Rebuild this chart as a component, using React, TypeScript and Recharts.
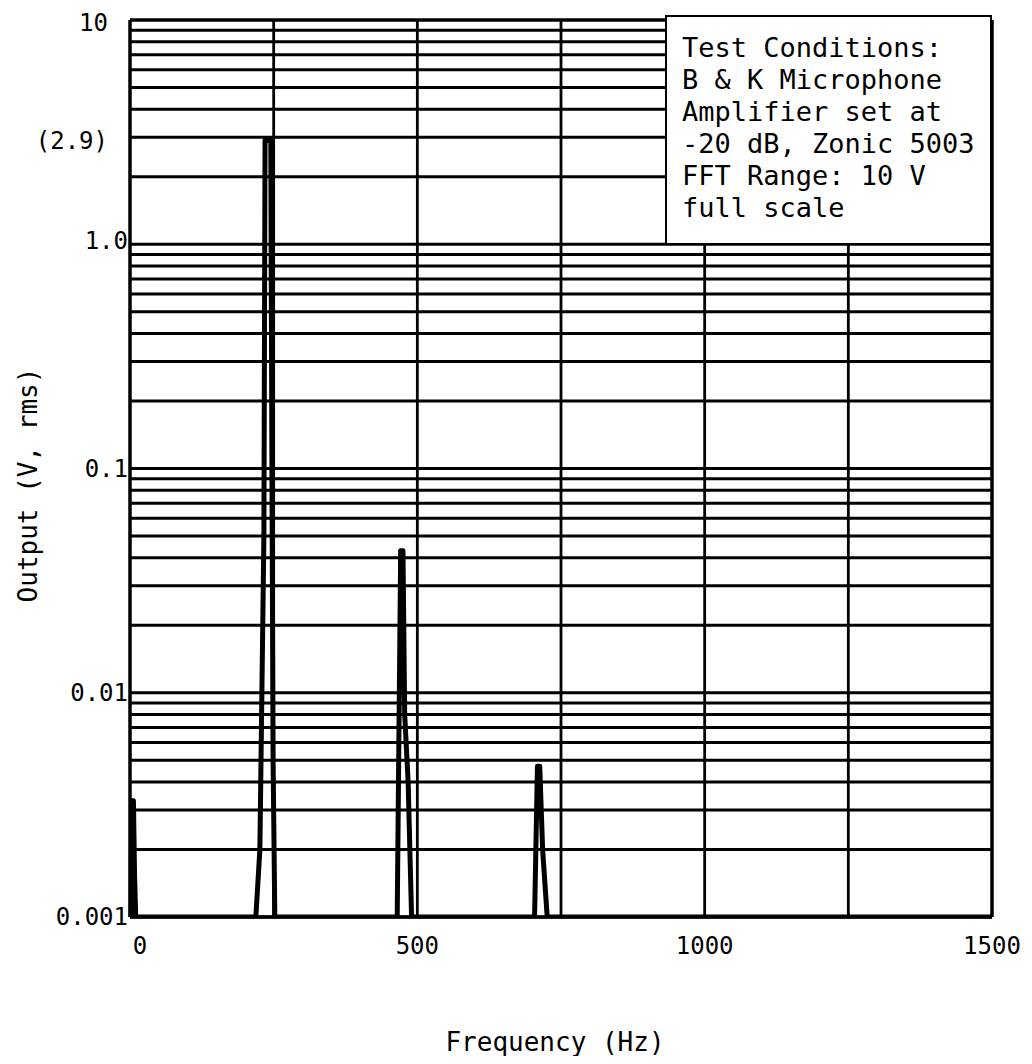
import { LineChart, Line, XAxis, YAxis, ReferenceLine } from 'recharts';

// spectrum trace (Hz, V rms)
const freqHz = [0, 2, 3, 6, 8, 10, 219, 226, 233, 235, 245, 247, 249, 252, 465, 471, 475, 478, 484, 490, 704, 709, 713, 718, 726, 1500];
const outputV = [0.001, 0.001, 0.0033, 0.0033, 0.0015, 0.001, 0.001, 0.002, 0.05, 2.9, 2.9, 0.1, 0.005, 0.001, 0.001, 0.043, 0.043, 0.008, 0.004, 0.001, 0.001, 0.0047, 0.0047, 0.002, 0.001, 0.001];

const xTicks = [0, 500, 1000, 1500];
const yTicks = [0.001, 0.01, 0.1, 1, 2.9, 10];
const yTickLabels: Record<string, string> = { '0.001': '0.001', '0.01': '0.01', '0.1': '0.1', '1': '1.0', '2.9': '(2.9)', '10': '10' };
const xGrid = [250, 500, 750, 1000, 1250, 1500];
const decades = [0.001, 0.01, 0.1, 1];
const mantissas = [1, 2, 3, 4, 5, 6, 7, 8, 9];
const yGrid = decades.flatMap((d) => mantissas.map((m) => +(m * d).toPrecision(3))).concat([10]);

const noteLines = ['Test Conditions:', 'B & K Microphone', 'Amplifier set at', '-20 dB, Zonic 5003', 'FFT Range: 10 V', 'full scale'];

const data = freqHz.map((f, i) => ({ f, v: outputV[i] }));

const FONT = '"DejaVu Sans Mono", monospace';

const YTick = (props: any) => {
    const { x, y, payload } = props;
    const label = yTickLabels[String(payload.value)];
    const shifted = payload.value === 10 || payload.value === 2.9;
    return (
        <text
            x={x - (shifted ? 20 : 0)}
            y={y + (payload.value === 10 ? 3 : payload.value === 1 ? -4 : 0)}
            dy="0.35em"
            textAnchor="end"
            fill="#000"
            fontSize={24}
            fontFamily={FONT}
        >
            {label}
        </text>
    );
};

const XTick = (props: any) => {
    const { x, y, payload } = props;
    return (
        <text x={x + (payload.value === 0 ? 10 : 0)} y={y} dy="0.71em" textAnchor="middle" fill="#000" fontSize={24} fontFamily={FONT}>
            {payload.value}
        </text>
    );
};

export default function App() {
    return (
        <div style={{ position: 'relative', width: 1016, height: 1048, background: '#fff' }}>
            <LineChart width={1016} height={1048} data={data} margin={{ top: 12, right: 32, left: 0, bottom: 0 }}>
                <XAxis
                    dataKey="f"
                    type="number"
                    domain={[0, 1500]}
                    ticks={xTicks}
                    height={139}
                    tickLine={false}
                    tickSize={0}
                    tickMargin={20}
                    axisLine={{ stroke: '#000', strokeWidth: 3.5 }}
                    tick={<XTick />}
                    label={() => (
                        <text x={547} y={1034} dy="0.35em" textAnchor="middle" fontSize={26} fontFamily={FONT} fill="#000">
                            Frequency (Hz)
                        </text>
                    )}
                />
                <YAxis
                    type="number"
                    scale="log"
                    domain={[0.001, 10]}
                    allowDataOverflow
                    ticks={yTicks}
                    width={122}
                    tickLine={false}
                    tickSize={0}
                    tickMargin={2}
                    axisLine={{ stroke: '#000', strokeWidth: 3.5 }}
                    tick={<YTick />}
                    label={() => (
                        <text x={20} y={477} dy="0.35em" textAnchor="middle" fontSize={26} fontFamily={FONT} fill="#000" transform="rotate(-90 20 477)">
                            Output (V, rms)
                        </text>
                    )}
                />
                {yGrid.map((v) => (
                    <ReferenceLine key={`y-${v}`} y={v} stroke="#000" strokeWidth={v === 10 ? 3.5 : 2.8} />
                ))}
                {xGrid.map((v) => (
                    <ReferenceLine key={`x-${v}`} x={v} stroke="#000" strokeWidth={v === 1500 ? 3.5 : 2.8} />
                ))}
                <Line
                    type="linear"
                    dataKey="v"
                    stroke="#000"
                    strokeWidth={5}
                    strokeLinejoin="round"
                    dot={false}
                    isAnimationActive={false}
                />
            </LineChart>
            <div
                style={{
                    position: 'absolute',
                    left: 657,
                    top: 7,
                    width: 327,
                    height: 230,
                    boxSizing: 'border-box',
                    border: '2px solid #000',
                    background: '#fff',
                    padding: '15px 0 0 15px',
                    fontFamily: FONT,
                    fontSize: 27,
                    lineHeight: '32px',
                    color: '#000',
                    whiteSpace: 'pre',
                }}
            >
                {noteLines.map((l) => (
                    <div key={l}>{l}</div>
                ))}
            </div>
        </div>
    );
}
